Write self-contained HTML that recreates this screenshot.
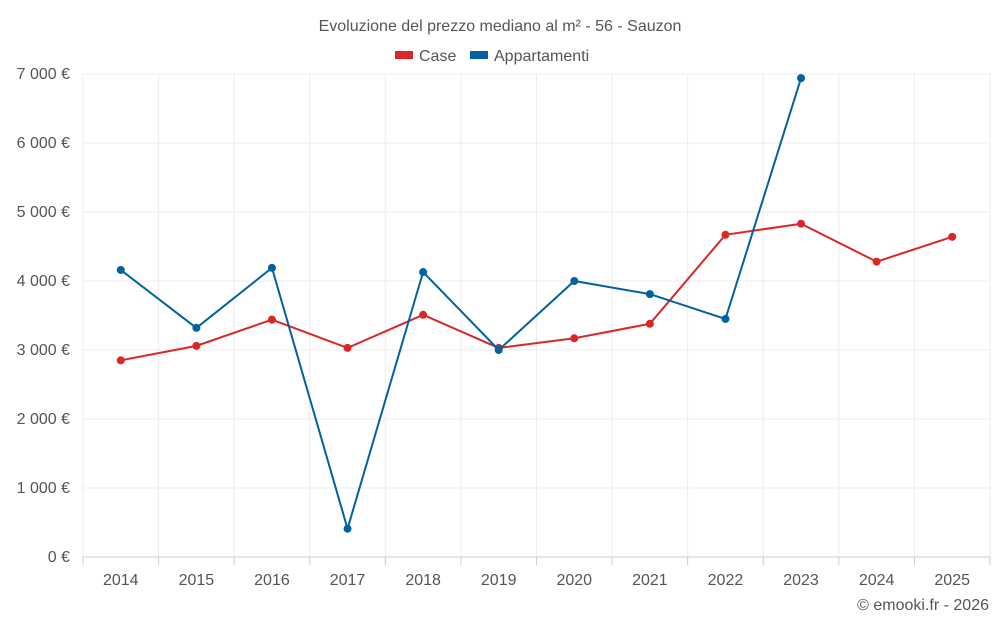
<!DOCTYPE html>
<html><head><meta charset="utf-8">
<style>
body{margin:0;background:#fff;font-family:"Liberation Sans",sans-serif;}
svg text{font-family:"Liberation Sans",sans-serif;}
</style></head>
<body>
<svg id="chart" width="1000" height="625">
<text x="500" y="31" text-anchor="middle" font-size="16" fill="#555">Evoluzione del prezzo mediano al m² - 56 - Sauzon</text>
<g>
<g><rect x="395" y="51" width="18" height="8" fill="#dc2626"/><text x="419" y="61" font-size="16" fill="#555">Case</text></g>
<g><rect x="470" y="51" width="18" height="8" fill="#0062a0"/><text x="494" y="61" font-size="16" fill="#555">Appartamenti</text></g>
</g>
<g id="grid"></g><g id="axes"></g><g id="series"></g>
<text x="989" y="610" text-anchor="end" font-size="16" fill="#555">© emooki.fr - 2026</text>
</svg>
<script>
const categories=["2014","2015","2016","2017","2018","2019","2020","2021","2022","2023","2024","2025"];
const caseValues=[2850,3060,3440,3030,3510,3030,3170,3380,4670,4830,4280,4640];
const appValues=[4160,3320,4190,410,4130,3000,4000,3810,3450,6940,null,null];
const yTicks=[0,1000,2000,3000,4000,5000,6000,7000];
const yTickLabels=["0 €","1 000 €","2 000 €","3 000 €","4 000 €","5 000 €","6 000 €","7 000 €"];
const L=83,R=990,T=74,B=557,yMax=7000;
const step=(R-L)/categories.length;
const xS=i=>L+step*(i+0.5);
const yS=v=>B-(v/yMax)*(B-T);
const NS="http://www.w3.org/2000/svg";
function mk(tag,attrs,parent){const e=document.createElementNS(NS,tag);for(const k in attrs)e.setAttribute(k,attrs[k]);parent.appendChild(e);return e;}
const grid=document.getElementById('grid'),axes=document.getElementById('axes'),ser=document.getElementById('series');
yTicks.forEach((t,i)=>{
  const y=yS(t);
  const ln=mk('line',{x1:L,x2:R,y1:y,y2:y,stroke:i===0?'#ccc':'#ececec','stroke-width':1},grid);
  
  
  const tx=mk('text',{x:70,y:y+5,'text-anchor':'end','font-size':16,fill:'#555'},axes);
  tx.textContent=yTickLabels[i];
  
  
});
for(let i=0;i<=categories.length;i++){
  const x=L+step*i;
  const ln=mk('line',{x1:x,x2:x,y1:T,y2:B,stroke:'#ececec','stroke-width':1},grid);
  
  
  const tk=mk('line',{x1:x,x2:x,y1:B,y2:B+8,stroke:'#ccc'},axes);
  
  
}
categories.forEach((c,i)=>{
  const tx=mk('text',{x:xS(i),y:585,'text-anchor':'middle','font-size':16,fill:'#555'},axes);
  tx.textContent=c;
  
  
});
function drawSeries(vals,color,name){
  let d='';vals.forEach((v,i)=>{if(v==null)return;d+=(d?'L':'M')+xS(i)+','+yS(v);});
  const p=mk('path',{d:d,fill:'none',stroke:color,'stroke-width':2},ser);
  
  
  vals.forEach((v,i)=>{if(v==null)return;
    const c=mk('circle',{cx:xS(i),cy:yS(v),r:4,fill:color},ser);
    
    
  });
}
drawSeries(caseValues,'#dc2626','case');
drawSeries(appValues,'#0062a0','appartamenti');
</script>
</body></html>
